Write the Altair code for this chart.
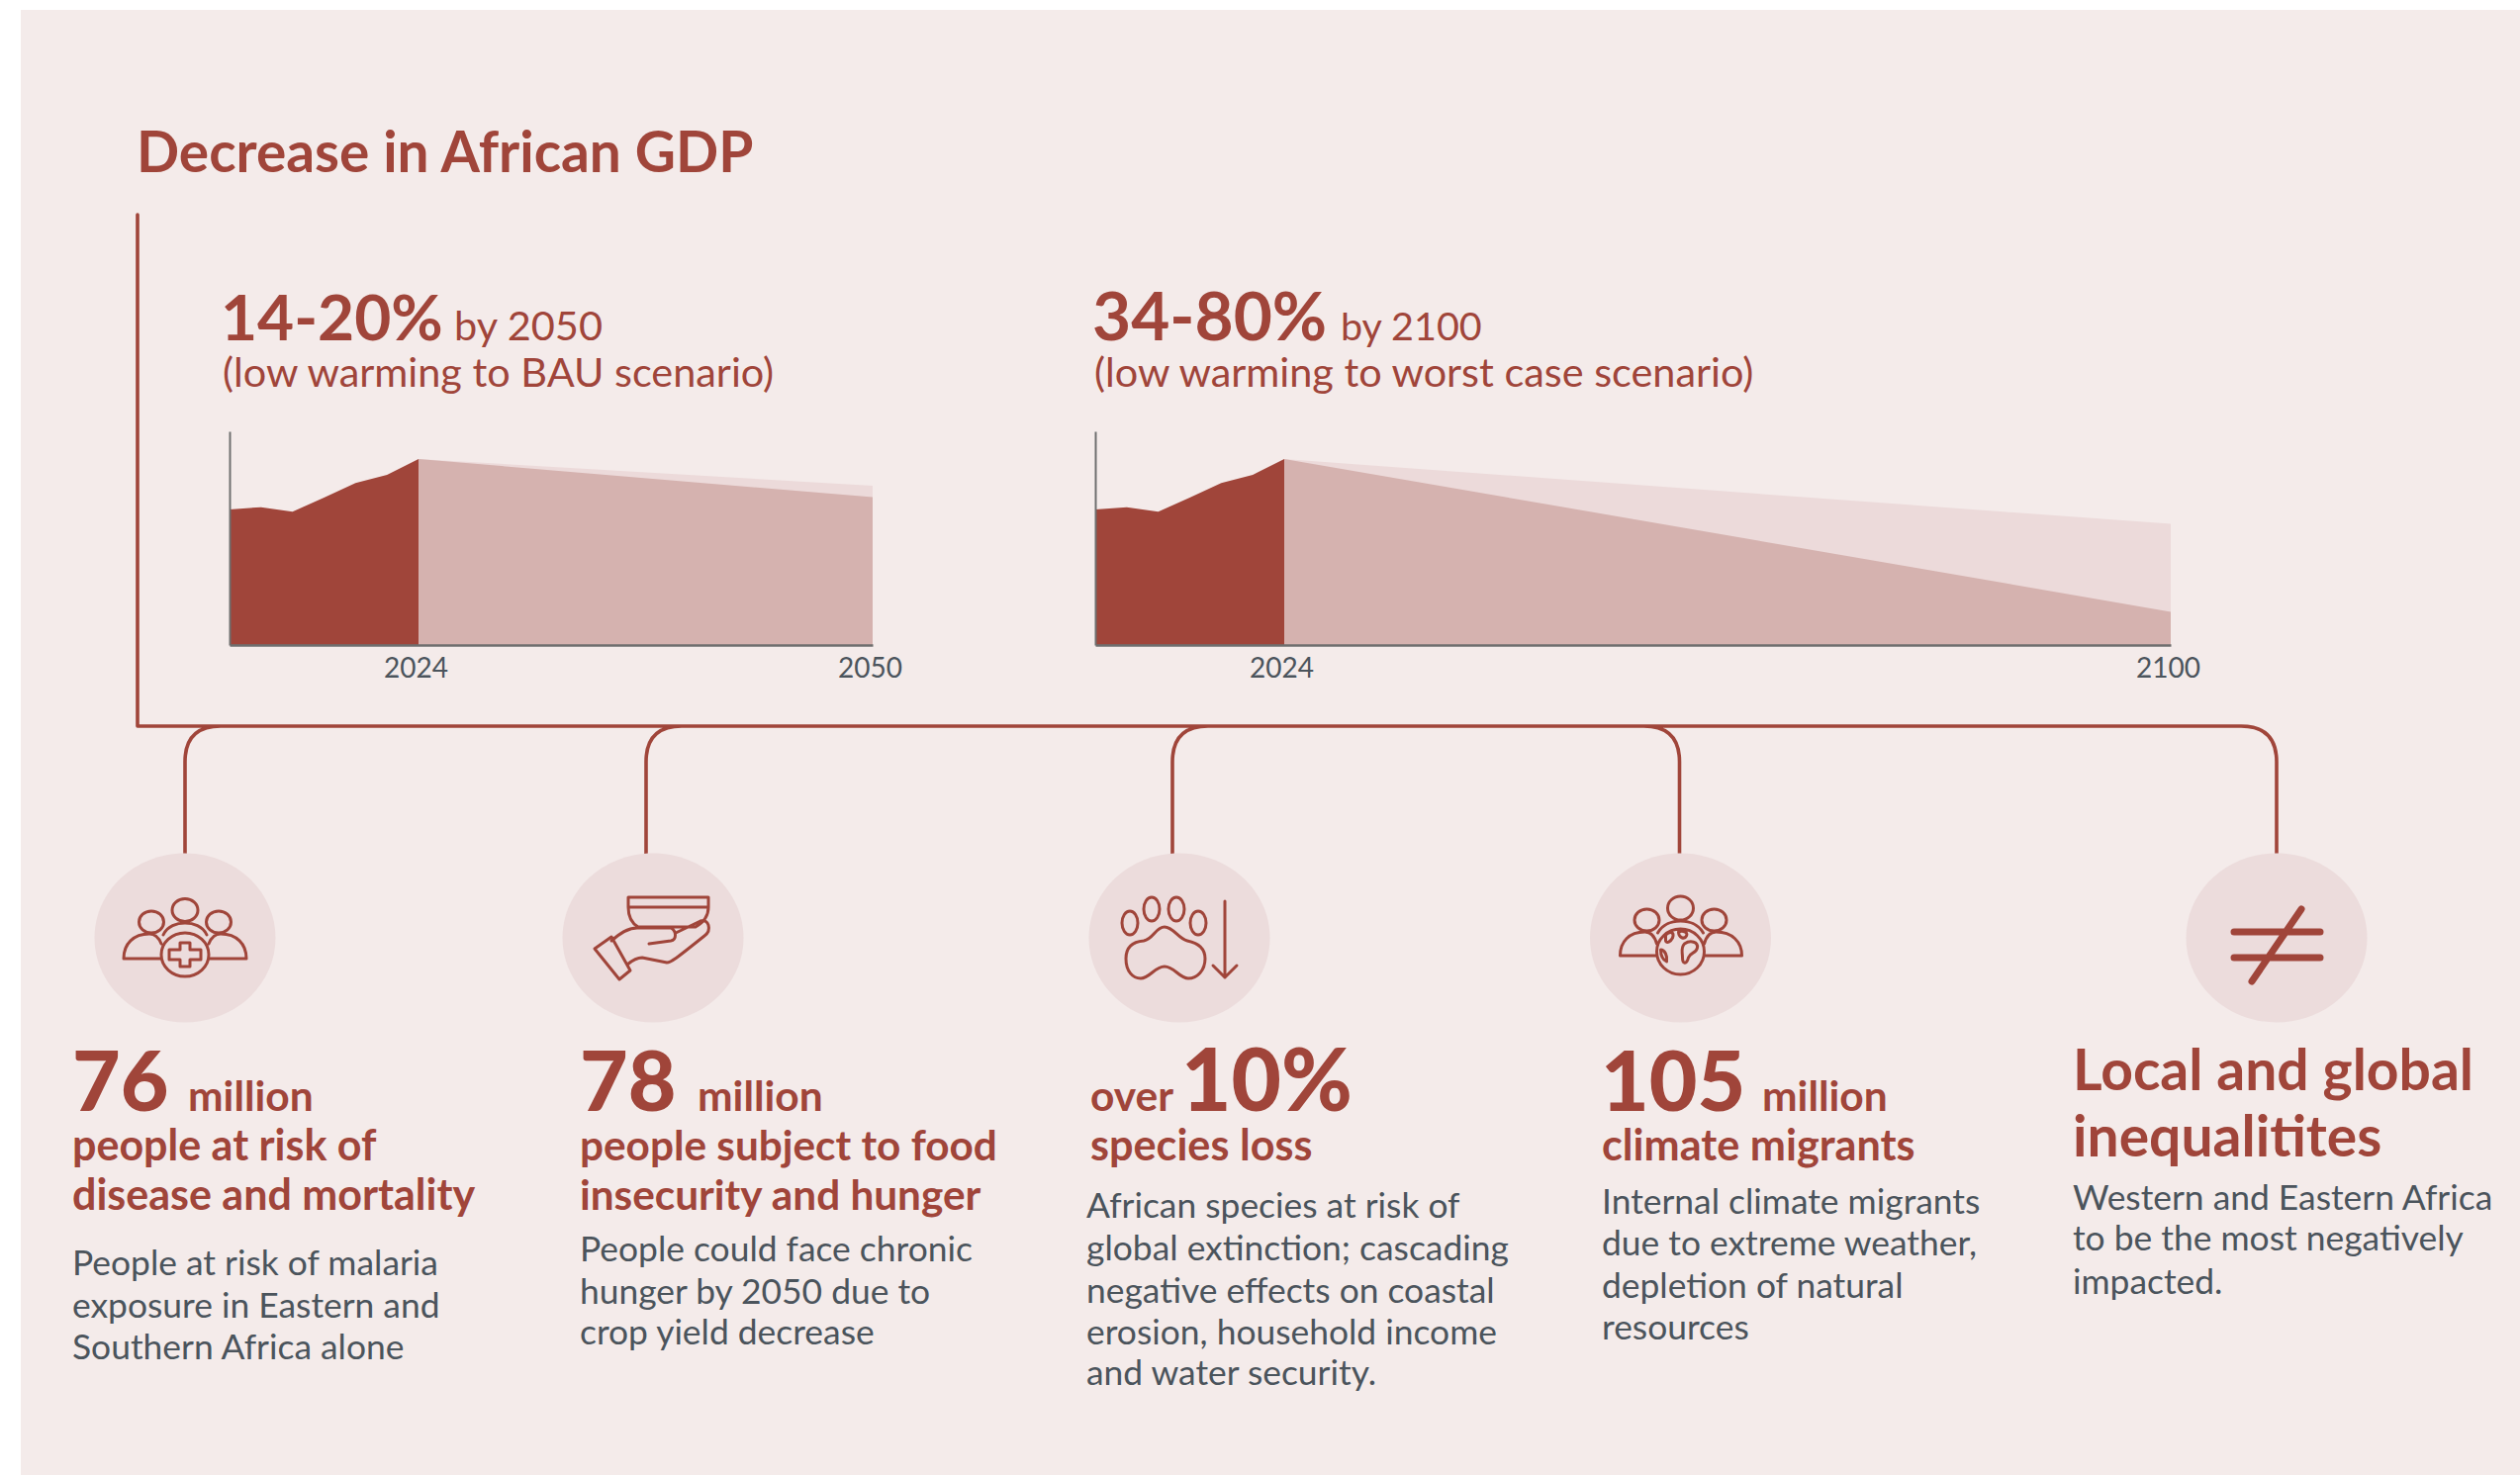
import altair as alt
import pandas as pd

# Palette
PAGE = "#ffffff"
PANEL = "#F4EBEA"
RED = "#A0453A"
MID = "#D5B2AF"
PALE = "#ECDADA"
DISC = "#ECDCDC"
SLATE = "#4B545C"
AXIS_GREY = "#6F6F6F"
FONT = "Lato"

W, H = 2547, 1491

# GDP index, 2024 = 100
hist_years = [2018, 2019, 2020, 2021, 2022, 2023, 2024]
hist_index = [73.6, 74.8, 72.4, 79.8, 87.4, 91.7, 100]
# Projected decrease by the end year: low warming, high warming (percent)
loss_2050 = [14, 20]
loss_2100 = [34, 80]
end_years = [2050, 2100]
axis_floor = 2.6

title_text = "Decrease in African GDP"
range_labels = ["14-20%", "34-80%"]
by_labels = ["by 2050", "by 2100"]
scenario_labels = ["(low warming to BAU scenario)", "(low warming to worst case scenario)"]

big_numbers = ["76", "78", "10%", "105"]
units = ["million", "million", "over", "million"]
headings = [
    ["people at risk of", "disease and mortality"],
    ["people subject to food", "insecurity and hunger"],
    ["species loss"],
    ["climate migrants"],
    ["Local and global", "inequalitites"],
]
bodies = [
    ["People at risk of malaria", "exposure in Eastern and", "Southern Africa alone"],
    ["People could face chronic", "hunger by 2050 due to", "crop yield decrease"],
    ["African species at risk of", "global extinction; cascading", "negative effects on coastal",
     "erosion, household income", "and water security."],
    ["Internal climate migrants", "due to extreme weather,", "depletion of natural", "resources"],
    ["Western and Eastern Africa", "to be the most negatively", "impacted."],
]

blank = alt.Data(values=[{"k": 0}])


def label(text, x, y, size, weight=400, color=SLATE, align="left"):
    return (
        alt.Chart(blank)
        .mark_text(text=text, font=FONT, fontSize=size, fontWeight=weight, color=color,
                   align=align, baseline="alphabetic")
        .encode(x=alt.value(x), y=alt.value(y))
    )


def outline(path, x, y, width=3):
    # A custom symbol at size 4 is drawn at one pixel per path unit
    return (
        alt.Chart(blank)
        .mark_point(shape=path, size=4, stroke=RED, strokeWidth=width, opacity=1,
                    strokeCap="round", strokeJoin="round", filled=False)
        .encode(x=alt.value(x), y=alt.value(y))
    )


def disc(x, y):
    path = "M-91.5 0A91.5 85.5 0 1 1 91.5 0A91.5 85.5 0 1 1 -91.5 0Z"
    return (
        alt.Chart(blank)
        .mark_point(shape=path, size=4, filled=True, fill=DISC, strokeWidth=0, opacity=1)
        .encode(x=alt.value(x), y=alt.value(y))
    )


def oval(cx, cy, rx, ry):
    return f"M{cx-rx} {cy}A{rx} {ry} 0 1 1 {cx+rx} {cy}A{rx} {ry} 0 1 1 {cx-rx} {cy}Z"


def gdp_panel(losses, end_year, x_px, axis_left):
    low, high = 100 - losses[0], 100 - losses[1]
    rows = [{"year": 2024, "gdp": 100, "series": "low"}, {"year": end_year, "gdp": low, "series": "low"},
            {"year": 2024, "gdp": 100, "series": "high"}, {"year": end_year, "gdp": high, "series": "high"}]
    rows += [{"year": y, "gdp": v, "series": "hist"} for y, v in zip(hist_years, hist_index)]
    frame = pd.DataFrame(rows)
    frame["floor"] = axis_floor
    x_scale = alt.Scale(domain=[2018, 2024, end_year], range=x_px)
    y_scale = alt.Scale(domain=[axis_floor, 114.5], range=[652, 436])
    return (
        alt.Chart(frame)
        .mark_area(interpolate="linear", opacity=1)
        .encode(
            x=alt.X("year:Q", scale=x_scale, title=None,
                    axis=alt.Axis(orient="bottom", offset=652 - H, values=[2024, end_year], format="d",
                                  ticks=False, grid=False, labelFont=FONT, labelFontSize=28,
                                  labelColor=SLATE, labelPadding=10, labelFlush=False, labelOffset=-3,
                                  domainColor=AXIS_GREY, domainWidth=2.5, zindex=1)),
            y=alt.Y("gdp:Q", scale=y_scale, title=None, stack=None,
                    axis=alt.Axis(orient="left", offset=-axis_left, values=[], ticks=False, labels=False,
                                  grid=False, domainColor=AXIS_GREY, domainWidth=2, zindex=1)),
            y2=alt.Y2("floor:Q"),
            color=alt.Color("series:N", legend=None,
                            scale=alt.Scale(domain=["low", "high", "hist"], range=[PALE, MID, RED])),
        )
    )


# Panel behind everything
background = (
    alt.Chart(blank)
    .mark_rect(color=PANEL, opacity=1)
    .encode(x=alt.value(21), x2=alt.value(W), y=alt.value(10), y2=alt.value(H))
)

# Connector from the GDP frame down to each consequence
r = 36
connector = outline(
    f"M139 217V734H{2301-r}Q2301 734 2301 {734+r}V863"
    f"M{1697.5-r} 734Q1697.5 734 1697.5 {734+r}V863"
    f"M{187+r} 734Q187 734 187 {734+r}V863"
    f"M{653+r} 734Q653 734 653 {734+r}V863"
    f"M{1185+r} 734Q1185 734 1185 {734+r}V863",
    0, 0, width=3.6,
)

people_top = (
    oval(0, -28, 13, 11.5) + oval(-34, -16, 12.5, 11) + oval(34, -16, 12.5, 11)
    + "M-22 -3C-18 -12 -8 -15 0 -15C8 -15 18 -12 22 -3"
)
health_icon = (
    people_top
    + "M-24 6C-26 1 -30 -4 -36 -4C-52 -4 -62 6 -62 21H-25"
    + "M24 6C26 1 30 -4 36 -4C52 -4 62 6 62 21H25"
    + oval(0, 17, 24, 22)
    + "M-5 5H5V12H16V22H5V29H-5V22H-16V12H-5Z"
)
food_icon = (
    "M-25 -41H56V-31H-25Z"
    "M-25 -31C-25 -22 -22 -15 -15 -11H43C50 -15 56 -22 56 -31"
    "M-59 11L-42 -1L-23 33L-34 42Z"
    "M-42 3C-34 -4 -26 -10 -16 -10H18C24 -7 24 2 18 3L-4 6"
    "M-26 27C-20 22 -16 20 -11 20L14 25C18 25 22 22 52 -2C60 -8 56 -20 48 -17L23 -5"
)
wildlife_icon = (
    oval(-50, -15, 8, 12) + oval(-28, -29, 8, 12) + oval(-3, -29, 8, 12) + oval(19, -15, 8, 12)
    + "M-15 -11C-24 -11 -26 1 -36 3C-48 4 -54 10 -54 21C-54 34 -47 41 -39 41C-30 41 -25 29 -15 29"
      "C-5 29 0 41 9 41C18 41 26 33 26 21C26 10 18 5 8 3C-1 1 -6 -11 -15 -11Z"
    + "M46 -37V40M34 28L46 40L58 28"
)
migrants_icon = (
    oval(0, -30, 13, 12) + oval(-34, -18, 12.5, 11) + oval(34, -18, 12.5, 11)
    + "M-23 -5C-18 -14 -8 -17 0 -17C8 -17 18 -14 23 -5"
    + "M-24 6C-26 -1 -30 -6 -36 -6C-52 -6 -61 4 -61 18H-24"
    + "M24 6C26 -1 30 -6 36 -6C52 -6 62 4 62 18H24"
    + oval(0, 14, 24, 23)
    + "M-15 -3C-10 -7 -6 -6 -8 0C-10 4 -14 6 -15 3Z"
    + "M-2 -6C2 -8 8 -6 6 -2C4 2 -2 0 -2 -6Z"
    + "M4 6C10 2 18 4 17 10C16 16 10 14 8 20C6 28 2 26 2 20C2 14 0 10 4 6Z"
    + "M-20 12C-16 12 -13 18 -14 24C-18 22 -20 18 -20 12Z"
)
unequal_icon = "M-43 -6H44M-43 20H44M25 -29L-25 44"

icon_x = [187, 660, 1192, 1698.5, 2301]
icons = [health_icon, food_icon, wildlife_icon, migrants_icon, unequal_icon]
icon_layers = []
for cx, ic in zip(icon_x, icons):
    icon_layers.append(disc(cx, 948))
    icon_layers.append(outline(ic, cx, 948, width=7 if ic is unequal_icon else 3))

texts = [label(title_text, 138, 174, 56.8, 700, RED)]

# Scenario captions above the two area charts
for i, cap_x in enumerate([223, 1104]):
    texts.append(label(range_labels[i], cap_x, 344, [64, 67.5][i], 700, RED))
    texts.append(label(by_labels[i], [459, 1355][i], 344, [41.5, 39.5][i], 400, RED))
    texts.append(label(scenario_labels[i], cap_x + 2, 391, 41.4, 400, RED))

# Headline figures
big_x = [73, 586, 1194, 1618]
big_size = [84, 84, 87, 84]
unit_x = [190, 705, 1102, 1781]
for i in range(4):
    texts.append(label(big_numbers[i], big_x[i], 1123, big_size[i], 900, RED))
    texts.append(label(units[i], unit_x[i], 1123, 42.5, 700, RED))

head_x = [73, 586, 1102, 1619]
head_size = [43, 42.3, 43.2, 43.2]
head_y = [[1173, 1223], [1173, 1223], [1173], [1173]]
for i in range(4):
    for line, y in zip(headings[i], head_y[i]):
        texts.append(label(line, head_x[i], y, head_size[i], 700, RED))
for line, y in zip(headings[4], [1102, 1169]):
    texts.append(label(line, 2095, y, 57, 700, RED))

body_x = [73, 586, 1098, 1619, 2095]
body_y = [
    [1289, 1332, 1374],
    [1275, 1318, 1359],
    [1231, 1274, 1317, 1359, 1400],
    [1227, 1269, 1312, 1354],
    [1223, 1264, 1308],
]
for i in range(5):
    for line, y in zip(bodies[i], body_y[i]):
        texts.append(label(line, body_x[i], y, 35.4, 400, SLATE))

left_panel = gdp_panel(loss_2050, end_years[0], [232, 423, 882], 232)
right_panel = gdp_panel(loss_2100, end_years[1], [1107, 1298, 2194], 1107)

chart = (
    alt.layer(background, left_panel, right_panel, connector, *icon_layers, *texts)
    .resolve_scale(x="independent", y="independent", color="independent")
    .properties(width=W, height=H, padding=0, background=PAGE,
                autosize=alt.AutoSizeParams(type="none", contains="padding"))
    .configure_view(stroke=None)
)

chart.save("out.html", embed_options={"renderer": "svg", "actions": False})
